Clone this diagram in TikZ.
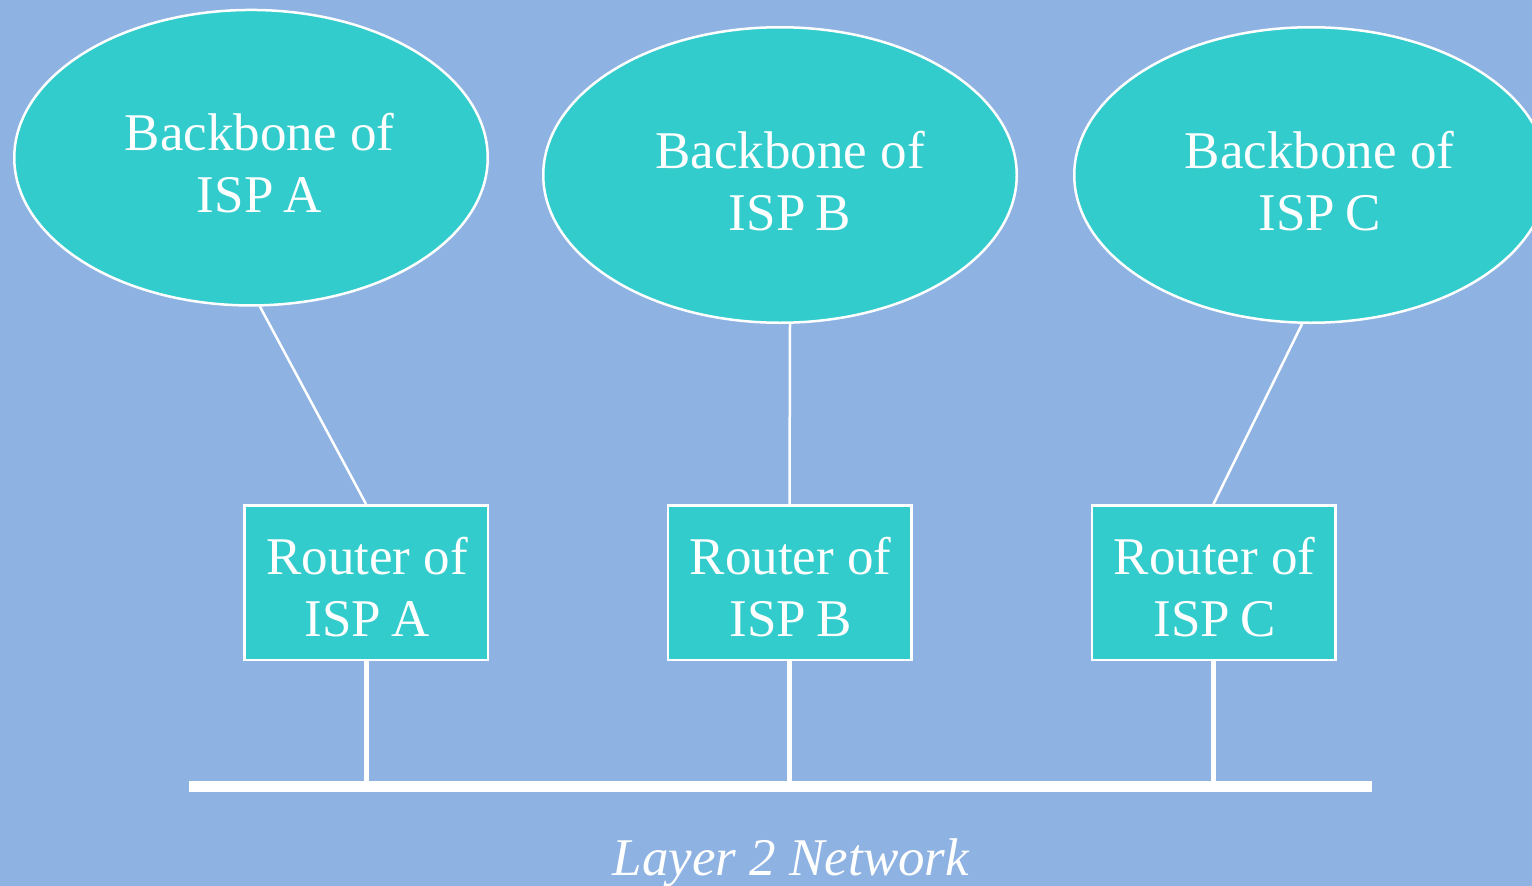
\documentclass[tikz,border=0pt]{standalone}
\usepackage{fontspec}
\setmainfont{Liberation Serif}
\usetikzlibrary{shapes.geometric}
\definecolor{bgblue}{RGB}{142,178,226}
\definecolor{ispteal}{RGB}{51,204,204}
\begin{document}
\begin{tikzpicture}[x=1pt,y=-1pt,
  bb/.style={ellipse, draw=white, line width=2.5pt, fill=ispteal, minimum width=473.5pt, minimum height=295.5pt, inner sep=0pt},
  rt/.style={rectangle, draw=white, line width=2.5pt, fill=ispteal, minimum width=243.5pt, minimum height=154.5pt, inner sep=0pt},
  lbl/.style={text=white, font=\fontsize{53}{62}\selectfont, align=center, inner sep=0pt, anchor=base},
  link/.style={draw=white, line width=2.5pt},
  drop/.style={draw=white, line width=5pt},
  busline/.style={draw=white, line width=11pt}]
\fill[bgblue] (0,0) rectangle (1532,886);
\useasboundingbox (0,0) rectangle (1532,886);
% backbones
\node[bb] (eA) at (251,157.7) {};
\node[bb] (eB) at (780,175) {};
\node[bb] (eC) at (1311,175) {};
\node[lbl] (tA) at (259.5,212) {Backbone of\\ISP\kern-3pt{} A};
\node[lbl] (tB) at (790,230) {Backbone of\\ISP\kern-3pt{} B};
\node[lbl] (tC) at (1319.5,230) {Backbone of\\ISP\kern-3pt{} C};
% routers
\node[rt] (rA) at (366,582.5) {};
\node[rt] (rB) at (789.5,582.5) {};
\node[rt] (rC) at (1213.5,582.5) {};
\node[lbl] (sA) at (367,636) {Router of\\ISP\kern-3pt{} A};
\node[lbl] (sB) at (790.5,636) {Router of\\ISP\kern-3pt{} B};
\node[lbl] (sC) at (1214.5,636) {Router of\\ISP\kern-3pt{} C};
% links
\draw[link] ([xshift=9pt]eA.south) -- (rA.north);
\draw[link] ([xshift=10pt]eB.south) -- (rB.north);
\draw[link] ([xshift=-9pt]eC.south) -- (rC.north);
% bus
\coordinate (busL) at (189,786.5);
\coordinate (busR) at (1372,786.5);
\draw[drop] (rA.south) -- (rA.south |- busL);
\draw[drop] (rB.south) -- (rB.south |- busL);
\draw[drop] (rC.south) -- (rC.south |- busL);
\draw[busline] (busL) -- (busR);
\node[lbl, font=\fontsize{53}{62}\selectfont\itshape] (net) at (791,875) {Layer 2 Network};
\end{tikzpicture}
\end{document}
